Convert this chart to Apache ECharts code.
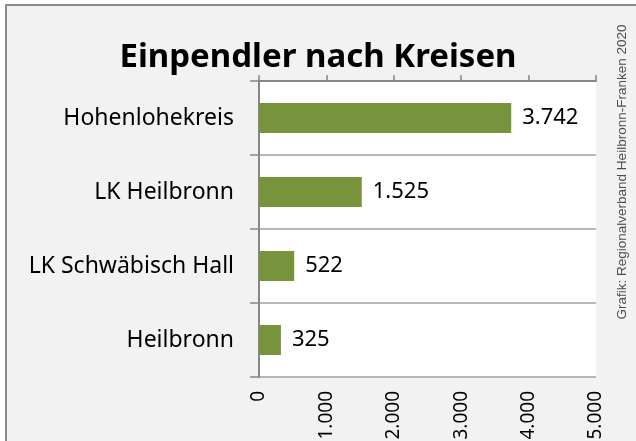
<!DOCTYPE html>
<html>
<head>
<meta charset="utf-8">
<script src="https://cdn.jsdelivr.net/npm/echarts@6/dist/echarts.min.js"></script>
<style>
  html, body { margin: 0; padding: 0; background: #ffffff; }
  #chart { width: 636px; height: 441px; }
</style>
</head>
<body>
<div id="chart"></div>
<script>
// Daten
var kreise = ['Hohenlohekreis', 'LK Heilbronn', 'LK Schwäbisch Hall', 'Heilbronn']
var einpendler = [3742, 1525, 522, 325]
var titel = 'Einpendler nach Kreisen'
var quelle = 'Grafik: Regionalverband Heilbronn-Franken 2020'

// Tausenderpunkt
function format_de(v) {
    return String(v).replace(/\B(?=(\d{3})+(?!\d))/g, '.')
}

var chart = echarts.init(document.getElementById('chart'))
var achse_farbe = '#868686'
var schrift = 'Noto Sans'

var option = {
    animation: false,
    backgroundColor: '#ffffff',
    title: {
        text: titel,
        left: 'center',
        top: 36,
        textStyle: { fontFamily: schrift, fontWeight: 'bold', fontSize: 33, color: '#000000' }
    },
    graphic: [
        {   // Hintergrund und Rahmen
            type: 'rect',
            z: -10,
            shape: { x: 6, y: 5, width: 660, height: 460 },
            style: { fill: '#f2f2f2', stroke: '#8c8c8c', lineWidth: 2 }
        },
        {   // Quelle senkrecht
            type: 'text',
            x: 622,
            y: 172,
            rotation: Math.PI / 2,
            style: {
                text: quelle,
                font: '13.5px "Liberation Sans"',
                fill: '#4d4d4d',
                align: 'center',
                verticalAlign: 'middle'
            }
        }
    ],
    grid: {
        left: 259, right: 40, top: 81, bottom: 64,
        outerBoundsMode: 'none', containLabel: false,
        show: true, backgroundColor: '#ffffff', borderWidth: 0
    },
    xAxis: [
        {   // obere Achse mit Strichen
            type: 'value',
            position: 'top',
            min: 0, max: 5000, interval: 1000,
            axisLine: { show: true, lineStyle: { color: achse_farbe, width: 2 } },
            axisTick: { show: true, length: 6, lineStyle: { color: achse_farbe, width: 1.5 } },
            axisLabel: { show: false },
            splitLine: { show: false }
        },
        {   // untere Beschriftung
            type: 'value',
            position: 'bottom',
            min: 0, max: 5000, interval: 1000,
            axisLine: { show: false },
            axisTick: { show: false },
            splitLine: { show: false },
            axisLabel: {
                rotate: 90,
                margin: 14,
                fontFamily: schrift,
                fontSize: 19,
                color: '#000000',
                formatter: format_de
            }
        }
    ],
    yAxis: {
        type: 'category',
        inverse: true,
        data: kreise,
        axisLine: { show: true, lineStyle: { color: achse_farbe, width: 2 } },
        axisTick: { show: true, length: 9, lineStyle: { color: achse_farbe, width: 1.5 } },
        splitLine: { show: true, lineStyle: { color: '#a0a0a0', width: 1.5 } },
        axisLabel: { margin: 25, fontFamily: schrift, fontSize: 23, color: '#000000' }
    },
    series: [{
        type: 'bar',
        data: einpendler,
        barWidth: 30,
        itemStyle: { color: '#77933c' },
        label: {
            show: true,
            position: 'right',
            distance: 11,
            fontFamily: schrift,
            fontSize: 22,
            color: '#000000',
            formatter: function (p) { return format_de(p.value) }
        }
    }]
}

chart.setOption(option)
</script>
</body>
</html>
